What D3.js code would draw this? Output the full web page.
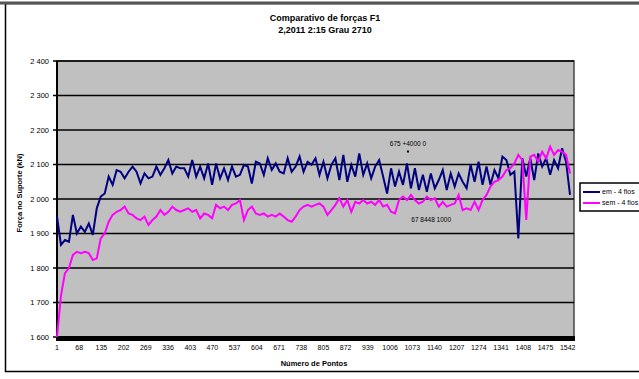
<html>

<head>
  <meta charset="utf-8">
  <title>Comparativo de forças F1</title>
  <script src="https://d3js.org/d3.v7.min.js"></script>
  <style>
    body {
      margin: 0;
      background: white;
    }

    text {
      font-family: "Liberation Sans", Arial, sans-serif;
      fill: #000;
    }
  </style>
</head>

<body>
  <svg id="chart" width="639" height="379"></svg>

  <script>
    // values, one sample every 12 points
    let sampleStep = 12;

    let serie1 = [
      1949, 1867, 1881, 1876, 1954, 1900, 1920, 1905, 1929, 1896, 1973, 2007, 2016, 2065, 2041, 2084,
      2079, 2060, 2079, 2094, 2079, 2045, 2074, 2060, 2065, 2094, 2070, 2089, 2113, 2074, 2094, 2089,
      2089, 2065, 2113, 2065, 2094, 2060, 2103, 2041, 2103, 2060, 2089, 2055, 2094, 2065, 2070, 2099,
      2094, 2045, 2108, 2103, 2070, 2118, 2084, 2103, 2079, 2074, 2118, 2079, 2094, 2123, 2079, 2108,
      2099, 2118, 2070, 2108, 2060, 2099, 2118, 2055, 2128, 2050, 2099, 2065, 2132, 2070, 2103, 2060,
      2094, 2113, 2065, 2016, 2089, 2036, 2079, 2041, 2103, 2031, 2089, 2026, 2070, 2021, 2074, 2031,
      2055, 2084, 2026, 2074, 2036, 2074, 2050, 2031, 2099, 2050, 2108, 2041, 2094, 2041, 2084, 2060,
      2123, 2113, 2070, 2079, 1886, 2118, 2065, 2118, 2055, 2132, 2094, 2118, 2070, 2113, 2089, 2147,
      2108, 2012
    ];

    let serie2 = [
      1600, 1720, 1785, 1800, 1838, 1847, 1843, 1847, 1843, 1823, 1828, 1886, 1900, 1934, 1954, 1963,
      1968, 1978, 1958, 1954, 1944, 1939, 1949, 1925, 1939, 1949, 1968, 1954, 1963, 1978, 1968, 1963,
      1968, 1973, 1963, 1968, 1944, 1958, 1954, 1944, 1983, 1973, 1978, 1968, 1983, 1987, 1997, 1939,
      1968, 1978, 1958, 1954, 1958, 1949, 1954, 1949, 1958, 1949, 1939, 1934, 1949, 1968, 1978, 1983,
      1978, 1983, 1987, 1978, 1954, 1968, 1983, 2002, 1978, 1997, 1963, 1992, 1987, 1997, 1987, 1992,
      1983, 1997, 1978, 1983, 1963, 1958, 1997, 2007, 1997, 2012, 1997, 1987, 1992, 2007, 1997, 2002,
      1978, 1992, 1978, 1983, 1987, 2012, 1968, 1973, 1968, 1992, 1968, 1997, 2012, 2036, 2050, 2055,
      2065, 2084, 2089, 2103, 2128, 2113, 1939, 2123, 2128, 2108, 2137, 2118, 2152, 2128, 2142, 2137,
      2128, 2074
    ];

    let seriesNames = ["em - 4 fios", "sem - 4 fios"];
    let seriesColors = ["#000080", "#ff00ff"];

    let xTickLabels = [1, 68, 135, 202, 269, 336, 403, 470, 537, 604, 671, 738, 805, 872, 939,
      1006, 1073, 1140, 1207, 1274, 1341, 1408, 1475, 1542];
    let yTicks = [1600, 1700, 1800, 1900, 2000, 2100, 2200, 2300, 2400];

    // data labels that sit inside the plot (point index, value, text)
    let notes = [
      { i: 1060, v: 2155, t: "675 +4000 0" },
      { i: 1130, v: 1933, t: "67 8448 1000" }
    ];

    let svg = d3.select("#chart");

    let x = d3.scaleLinear().domain([1, 1561]).range([57, 574]);
    let y = d3.scaleLinear().domain([1600, 2400]).range([337, 61]);

    // chart border
    svg.append("rect")
      .attr("x", 5.5).attr("y", 3.5)
      .attr("width", 700).attr("height", 368)
      .style("fill", "white")
      .style("stroke", "#000")
      .style("stroke-width", 1.5);
    svg.append("line")
      .attr("x1", 0).attr("x2", 639)
      .attr("y1", 3).attr("y2", 3)
      .style("stroke", "#555")
      .style("stroke-width", 3);

    // plot area
    svg.append("rect")
      .attr("x", x(1)).attr("y", y(2400))
      .attr("width", x(1561) - x(1)).attr("height", y(1600) - y(2400))
      .style("fill", "#c0c0c0")
      .style("stroke", "#444")
      .style("stroke-width", 1.5);

    // gridlines + y ticks
    svg.selectAll(".grid")
      .data(yTicks)
      .join("line")
      .attr("class", "grid")
      .attr("x1", x(1) - 4).attr("x2", x(1561))
      .attr("y1", d => y(d)).attr("y2", d => y(d))
      .style("stroke", "#000")
      .style("stroke-width", 1.3);

    svg.selectAll(".ylab")
      .data(yTicks)
      .join("text")
      .attr("class", "ylab")
      .attr("x", 49)
      .attr("y", d => y(d))
      .attr("dy", "0.35em")
      .attr("text-anchor", "end")
      .style("font-size", "7.5px")
      .text(d => d3.format(",")(d).replace(",", " "));

    // left axis line
    svg.append("line")
      .attr("x1", x(1)).attr("x2", x(1))
      .attr("y1", y(2400)).attr("y2", y(1600))
      .style("stroke", "#000")
      .style("stroke-width", 2);

    // bottom axis (thick band)
    svg.append("rect")
      .attr("x", x(1) - 1).attr("y", y(1600) - 1)
      .attr("width", x(1561) - x(1) + 2).attr("height", 5)
      .style("fill", "#000");

    svg.selectAll(".xlab")
      .data(xTickLabels)
      .join("text")
      .attr("class", "xlab")
      .attr("x", d => x(d))
      .attr("y", 350)
      .attr("text-anchor", "middle")
      .style("font-size", "7px")
      .text(d => d);

    // series lines
    let line = d3.line()
      .x((d, i) => x(1 + i * sampleStep))
      .y(d => y(d));

    [serie1, serie2].forEach((s, k) => {
      svg.append("path")
        .datum(s)
        .attr("d", line)
        .style("fill", "none")
        .style("stroke", seriesColors[k])
        .style("stroke-width", 2)
        .style("stroke-linejoin", "miter");
    });

    // data labels
    notes.forEach(n => {
      svg.append("text")
        .attr("x", x(n.i)).attr("y", y(n.v))
        .attr("text-anchor", "middle")
        .style("font-size", "6.5px")
        .text(n.t);
    });
    svg.append("rect")
      .attr("x", x(notes[0].i) - 1).attr("y", y(notes[0].v) + 5)
      .attr("width", 2).attr("height", 2)
      .style("fill", "#000");

    // titles
    svg.append("text")
      .attr("x", 325).attr("y", 21)
      .attr("text-anchor", "middle")
      .style("font-size", "9px")
      .style("font-weight", "bold")
      .text("Comparativo de forças F1");
    svg.append("text")
      .attr("x", 325).attr("y", 33)
      .attr("text-anchor", "middle")
      .style("font-size", "9px")
      .style("font-weight", "bold")
      .text("2,2011 2:15 Grau 2710");

    svg.append("text")
      .attr("transform", "translate(22,193) rotate(-90)")
      .attr("text-anchor", "middle")
      .style("font-size", "7.5px")
      .style("font-weight", "bold")
      .text("Força no Suporte (kN)");

    svg.append("text")
      .attr("x", 314).attr("y", 366)
      .attr("text-anchor", "middle")
      .style("font-size", "7.5px")
      .style("font-weight", "bold")
      .text("Número de Pontos");

    // legend
    let legend = svg.append("g").attr("transform", "translate(580,183)");
    legend.append("rect")
      .attr("width", 70).attr("height", 28)
      .style("fill", "white")
      .style("stroke", "#000")
      .style("stroke-width", 1.5);
    seriesNames.forEach((name, k) => {
      legend.append("line")
        .attr("x1", 3).attr("x2", 20)
        .attr("y1", 9 + k * 11).attr("y2", 9 + k * 11)
        .style("stroke", seriesColors[k])
        .style("stroke-width", 2);
      legend.append("text")
        .attr("x", 22).attr("y", 9 + k * 11)
        .attr("dy", "0.35em")
        .style("font-size", "7px")
        .text(name);
    });
  </script>
</body>

</html>
